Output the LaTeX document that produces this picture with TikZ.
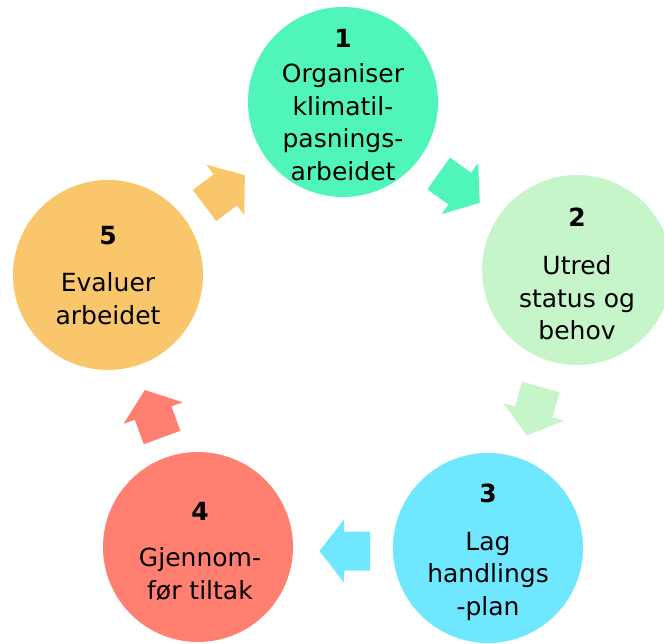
\documentclass[tikz,border=0pt]{standalone}
\usepackage{fontspec}
\setmainfont{DejaVu Sans}
\definecolor{cA}{HTML}{50F5BA}
\definecolor{cB}{HTML}{C6F5C9}
\definecolor{cC}{HTML}{6EE7FF}
\definecolor{cD}{HTML}{FF8070}
\definecolor{cE}{HTML}{F9C66B}
\tikzset{
  stage/.style={circle, minimum size=190pt, inner sep=0pt},
  numlbl/.style={font=\fontsize{25}{28}\selectfont\bfseries, text=black},
  txtlbl/.style={font=\fontsize{25}{32.5}\selectfont, align=center, text=black},
  pics/blockarrow/.style={code={
    \fill[#1] (-25,-19.5) -- (1,-19.5) -- (1,-31.5) -- (25.5,0) -- (1,31.5) -- (1,19.5) -- (-25,19.5) -- cycle;
  }}
}
\begin{document}
\begin{tikzpicture}[x=1pt,y=1pt]
\useasboundingbox (0,0) rectangle (664,643);
\clip (0,0) rectangle (664,643);
% circles (y = 643 - image y)
\node[stage, fill=cA] (s1) at (343,541) {};
\node[stage, fill=cB] (s2) at (577,373) {};
\node[stage, fill=cC] (s3) at (488,95) {};
\node[stage, fill=cD] (s4) at (198,96) {};
\node[stage, fill=cE] (s5) at (108,368) {};
% numbers
\node[numlbl] (n1) at (343,605) {1};
\node[numlbl] (n2) at (577,426) {2};
\node[numlbl] (n3) at (488,150) {3};
\node[numlbl] (n4) at (200,132) {4};
\node[numlbl] (n5) at (108,407) {5};
% texts
\node[txtlbl, anchor=north] (t1) at (343,583) {Organiser\\klimatil-\\pasnings-\\arbeidet};
\node[txtlbl, anchor=north] (t2) at (577,391) {Utred\\status og\\behov};
\node[txtlbl, anchor=north] (t3) at (488,114.5) {Lag\\handlings\\-plan};
\node[txtlbl, anchor=north] (t4) at (200,99) {Gjennom-\\før tiltak};
\node[txtlbl, anchor=north] (t5) at (108,374) {Evaluer\\arbeidet};
% block arrows
\pic[rotate=-35.5] at (459,455) {blockarrow=cA};
\pic[rotate=-106] at (534,232) {blockarrow=cB};
\pic[rotate=180] at (345,92) {blockarrow=cC};
\pic[rotate=110] at (153.5,229) {blockarrow=cD};
\pic[rotate=37] at (224.5,452.5) {blockarrow=cE};
\end{tikzpicture}
\end{document}
